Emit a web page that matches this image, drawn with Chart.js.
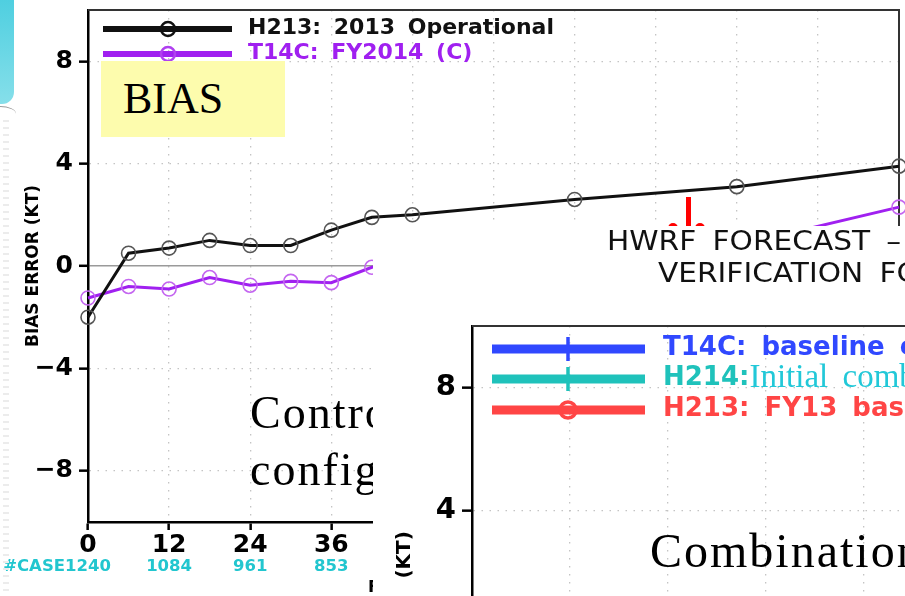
<!DOCTYPE html>
<html><head><meta charset="utf-8">
<script src="https://cdn.jsdelivr.net/npm/chart.js@4.4.1/dist/chart.umd.min.js"></script>
<style>
html,body{margin:0;padding:0;background:#fff;}
#wrap{position:relative;width:905px;height:596px;overflow:hidden;background:#fff;}
.abs{position:absolute;white-space:nowrap;}
#c1{position:absolute;left:0;top:0;}
#cyan{left:0;top:0;width:14px;height:104px;background:linear-gradient(#4fcfe0,#86dfea);border-bottom-right-radius:12px;}
#cyanline{left:0;top:106px;width:16px;height:10px;border-top:1px solid #9a9a9a;border-top-right-radius:16px 8px;}
#dots{left:3px;top:120px;width:6px;height:476px;background:repeating-linear-gradient(to bottom,#ececec 0 2px,transparent 2px 7px);}
#yellow{left:101px;top:61px;width:184px;height:76px;background:#fdfcad;}
#bias{left:22px;top:16px;font:44px/44px "Liberation Serif",serif;color:#000;}
#ctrl{left:250px;top:384px;font:46px/57px "Liberation Serif",serif;color:#000;letter-spacing:2px;}
.red{background:#ff0000;}
#panel{left:373px;top:226px;width:532px;height:370px;overflow:hidden;background:#fff;}
#c2{position:absolute;left:0;top:0;}
.ttl{font:26px/26px "DejaVu Sans",sans-serif;color:#111;word-spacing:6px;transform:scaleX(1.14);transform-origin:0 0;}
#comb{left:277px;top:301px;font:48px/48px "Liberation Serif",serif;color:#000;letter-spacing:2px;}
</style>
</head><body>
<div id="wrap">
  <canvas id="c1" width="905" height="596"></canvas>
  <div id="cyan" class="abs"></div>
  <div id="cyanline" class="abs"></div>
  <div id="dots" class="abs"></div>
  <div id="yellow" class="abs"><div id="bias" class="abs">BIAS</div></div>
  <div id="ctrl" class="abs">Control<br>configuration</div>
  <div class="abs red" style="left:686px;top:197px;width:5px;height:30px;"></div>
  <div class="abs red" style="left:668px;top:223px;width:10px;height:10px;border-radius:50%;"></div>
  <div class="abs red" style="left:695px;top:223px;width:10px;height:10px;border-radius:50%;"></div>
  <div id="panel" class="abs">
    <canvas id="c2" width="1099" height="795"></canvas>
    <div class="abs ttl" style="left:234px;top:2px;">HWRF FORECAST –</div>
    <div class="abs ttl" style="left:285px;top:34px;">VERIFICATION FOR</div>
    <div id="comb" class="abs">Combination</div>
  </div>
</div>
<script>
// ---- data ----
const hours = [0, 6, 12, 18, 24, 30, 36, 42, 48, 72, 96, 120];
const h213Bias = [-2.0, 0.5, 0.7, 1.0, 0.8, 0.8, 1.4, 1.9, 2.0, 2.6, 3.1, 3.9];
const t14cBias = [-1.25, -0.8, -0.9, -0.45, -0.75, -0.6, -0.65, -0.05, 0.2, 0.5, 0.8, 2.3];
const hourTicks = [0, 12, 24, 36, 48, 60, 72, 84, 96, 108, 120];
const biasTicks = [-8, -4, 0, 4, 8];
const caseHours = [0, 12, 24, 36];
const caseCounts = [1240, 1084, 961, 853];
const seriesLabels = ['H213: 2013 Operational', 'T14C: FY2014 (C)'];
const panelLabels = ['T14C: baseline configuration', 'H214:', 'H213: FY13 baseline'];
const panelNote = 'Initial combination';

Chart.defaults.font.family = '"DejaVu Sans", sans-serif';
const pts = (xs, ys) => xs.map((x, i) => ({x, y: ys[i]}));
const fmt = v => (v < 0 ? '\u2212' + Math.abs(v) : String(v));

const framePlugin = {
  id: 'frame',
  beforeDatasetsDraw(chart) {
    const {ctx, chartArea: a} = chart;
    ctx.save();
    ctx.strokeStyle = '#333'; ctx.lineWidth = 2;
    ctx.beginPath();
    ctx.moveTo(a.left, a.top); ctx.lineTo(a.right, a.top); ctx.lineTo(a.right, a.bottom);
    ctx.stroke();
    ctx.restore();
  }
};

const legend1 = {
  id: 'legend1',
  afterDraw(chart) {
    const {ctx, chartArea: a} = chart;
    ctx.save();
    const rows = [18, 43];
    chart.data.datasets.forEach((ds, i) => {
      const y = a.top + rows[i] + 1;
      ctx.strokeStyle = ds.borderColor; ctx.lineWidth = 6;
      ctx.beginPath(); ctx.moveTo(a.left + 15, y); ctx.lineTo(a.left + 144, y); ctx.stroke();
      ctx.lineWidth = 2.5; ctx.strokeStyle = ds.legendMarker;
      ctx.beginPath(); ctx.arc(a.left + 80, y, 7, 0, Math.PI * 2); ctx.stroke();
      ctx.fillStyle = ds.textColor;
      ctx.font = 'bold 22px "DejaVu Sans"';
      try { ctx.wordSpacing = '5px'; } catch (e) {}
      ctx.textBaseline = 'middle'; ctx.textAlign = 'left';
      ctx.fillText(ds.label, a.left + 160, a.top + rows[i]);
    });
    // case counts row
    const xs = chart.scales.x;
    ctx.font = 'bold 16.5px "DejaVu Sans"';
    ctx.fillStyle = '#22c6cf';
    ctx.textBaseline = 'middle';
    caseHours.forEach((h, i) => {
      const x = xs.getPixelForValue(h);
      const t = String(caseCounts[i]);
      ctx.textAlign = 'center';
      ctx.fillText(t, x, a.bottom + 45);
      if (i === 0) {
        ctx.textAlign = 'right';
        ctx.fillText('#CASE', x - ctx.measureText(t).width / 2, a.bottom + 45);
      }
    });
    ctx.restore();
  }
};

function axisCommon(ticks, tickFont, tickLen, tickPad) {
  return {
    afterBuildTicks(scale) { scale.ticks = ticks.map(v => ({value: v})); },
    ticks: { font: tickFont, color: '#000', padding: tickPad, autoSkip: false, maxRotation: 0,
             callback: v => fmt(v) },
    grid: {
      color: c => (c.tick && c.tick.value === 0 && c.scale.axis === 'y') ? '#9a9a9a' : '#c4c4c4',
      lineWidth: c => (c.tick && c.tick.value === 0 && c.scale.axis === 'y') ? 1.6 : 1.3,
      tickLength: tickLen, tickColor: '#000', tickWidth: 2.5, tickBorderDash: []
    },
    border: { display: true, color: '#000', width: 2.5,
              dash: c => (c.tick && c.tick.value === 0 && c.scale.axis === 'y') ? [] : [1.5, 6.5] }
  };
}
function fixX(h) { return s => { s.height = h; s.paddingLeft = 0; s.paddingRight = 0; s.paddingTop = 0; s.paddingBottom = 0; }; }
function fixY(w) { return s => { s.width = w; s.paddingLeft = 0; s.paddingRight = 0; s.paddingTop = 0; s.paddingBottom = 0; }; }

new Chart(document.getElementById('c1'), {
  type: 'line',
  data: {
    datasets: [
      { label: seriesLabels[0], data: pts(hours, h213Bias), borderColor: '#111', borderWidth: 3,
        pointRadius: 7, pointBorderColor: '#555', pointBorderWidth: 1.6, pointBackgroundColor: 'rgba(0,0,0,0)',
        tension: 0, clip: false, legendMarker: '#111', textColor: '#111' },
      { label: seriesLabels[1], data: pts(hours, t14cBias), borderColor: '#a020f0', borderWidth: 3,
        pointRadius: 7, pointBorderColor: '#c466f0', pointBorderWidth: 1.6, pointBackgroundColor: 'rgba(0,0,0,0)',
        tension: 0, clip: false, legendMarker: '#b040f0', textColor: '#a020f0' }
    ]
  },
  options: {
    responsive: false, animation: false, devicePixelRatio: 1, events: [],
    layout: { padding: { left: 0, top: 10, right: 6, bottom: 0 }, autoPadding: false },
    plugins: { legend: { display: false }, tooltip: { enabled: false } },
    scales: {
      x: Object.assign(axisCommon(hourTicks, {size: 25, weight: 'bold', lineHeight: 1}, 8, 3), {
        type: 'linear', min: 0, max: 120,
        afterFit: fixX(74),
        title: { display: true, text: 'FORECAST LEAD TIME (HR)', color: '#000',
                 font: {size: 16.6, weight: 'bold', lineHeight: 1}, padding: {top: 0, bottom: 0} }
      }),
      y: Object.assign(axisCommon(biasTicks, {size: 25, weight: 'bold'}, 9, 6), {
        type: 'linear', min: -10, max: 10,
        afterFit: fixY(88),
        title: { display: true, text: 'BIAS ERROR (KT)', color: '#000',
                 font: {size: 17, weight: 'bold'}, padding: {top: 23, bottom: 0} }
      })
    }
  },
  plugins: [framePlugin, legend1]
});

// ---- second (overlapping) slide chart ----
const legend2 = {
  id: 'legend2',
  afterDraw(chart) {
    const {ctx, chartArea: a} = chart;
    ctx.save();
    const rows = [23, 53, 84];
    chart.data.datasets.forEach((ds, i) => {
      const y = a.top + rows[i];
      ctx.strokeStyle = ds.borderColor; ctx.lineWidth = 9;
      ctx.beginPath(); ctx.moveTo(a.left + 20, y); ctx.lineTo(a.left + 173, y); ctx.stroke();
      ctx.lineWidth = 3.5;
      if (ds.pointStyle === 'circle') {
        ctx.beginPath(); ctx.arc(a.left + 96, y, 8, 0, Math.PI * 2); ctx.stroke();
      } else {
        ctx.beginPath(); ctx.moveTo(a.left + 96, y - 12); ctx.lineTo(a.left + 96, y + 12); ctx.stroke();
      }
      ctx.fillStyle = ds.borderColor;
      ctx.font = 'bold 26px "DejaVu Sans"';
      try { ctx.wordSpacing = '6px'; } catch (e) {}
      ctx.textBaseline = 'middle'; ctx.textAlign = 'left';
      ctx.fillText(ds.label, a.left + 191, y - 1);
      if (ds.note) {
        const w = ctx.measureText(ds.label).width;
        ctx.font = '33px "Liberation Serif"';
        ctx.fillStyle = '#22c8d8';
        ctx.fillText(ds.note, a.left + 191 + w, y - 1);
      }
    });
    ctx.restore();
  }
};

new Chart(document.getElementById('c2'), {
  type: 'line',
  data: {
    datasets: [
      { label: panelLabels[0], data: [], borderColor: '#3048ff', pointStyle: 'cross' },
      { label: panelLabels[1], note: panelNote, data: [], borderColor: '#1fc2bb', pointStyle: 'cross' },
      { label: panelLabels[2], data: [], borderColor: '#ff4545', pointStyle: 'circle' }
    ]
  },
  options: {
    responsive: false, animation: false, devicePixelRatio: 1, events: [],
    layout: { padding: { left: 0, top: 100, right: 20, bottom: 0 }, autoPadding: false },
    plugins: { legend: { display: false }, tooltip: { enabled: false } },
    scales: {
      x: Object.assign(axisCommon(hourTicks, {size: 29, weight: 'bold'}, 10, 4), {
        type: 'linear', min: 0, max: 120,
        afterFit: fixX(80)
      }),
      y: Object.assign(axisCommon(biasTicks, {size: 29, weight: 'bold'}, 10, 6), {
        type: 'linear', min: -10, max: 10,
        afterFit: fixY(99),
        title: { display: true, text: 'BIAS ERROR   (KT)', color: '#000',
                 font: {size: 20, weight: 'bold'}, padding: {top: 20, bottom: 0} }
      })
    }
  },
  plugins: [framePlugin, legend2]
});
</script>
</body></html>
